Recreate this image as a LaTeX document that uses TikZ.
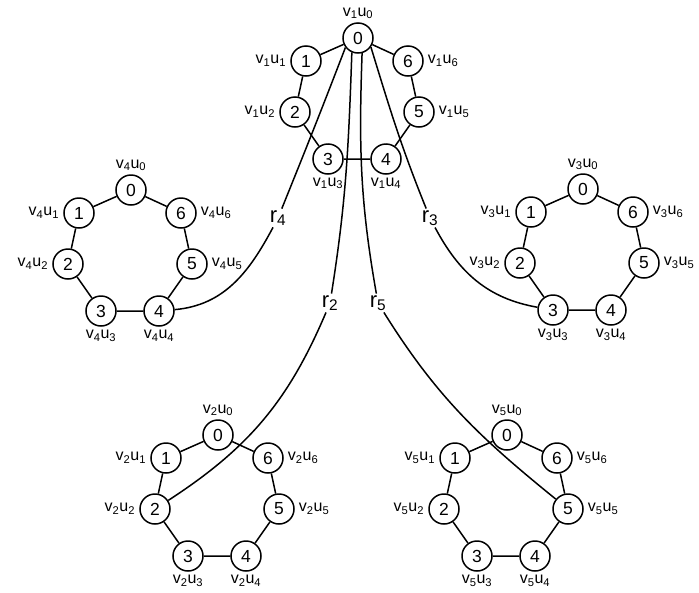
\documentclass[tikz,border=0pt]{standalone}
\usepackage{fontspec}
\setmainfont{Liberation Sans}
\tikzset{
  vtx/.style={circle, draw, line width=1.5pt, minimum size=30pt, inner sep=0pt, font=\fontsize{17.5}{17.5}\selectfont},
  lbl/.style={inner sep=0pt, font=\fontsize{16}{16}\selectfont},
  rlbl/.style={inner sep=1.5pt, font=\fontsize{22}{22}\selectfont},
  edge/.style={line width=1.5pt},
}
\newcommand\mkcycle[3]{%
  \foreach \k/\dx/\dy in {0/0/0, 1/-52/23, 2/-63/74, 3/-30/121, 4/28/121, 5/61/74, 6/50/23}{
    \node[vtx] (c#1n\k) at (#2+\dx, -#3-\dy) {\k};
  }
  \foreach \k/\na/\la/\sx/\sy in {0/north/south/0/3, 1/west/east/-4/0, 2/west/east/-4/0, 3/south/north/0/-3, 4/south/north/0/-3, 5/east/west/4/0, 6/east/west/4/0}{
    \node[lbl, anchor=\la] (c#1l\k) at ([xshift=\sx pt, yshift=\sy pt]c#1n\k.\na) {v\textsubscript{#1}u\textsubscript{\k}};
  }
  \draw[edge] (c#1n0) -- (c#1n1) -- (c#1n2) -- (c#1n3) -- (c#1n4) -- (c#1n5) -- (c#1n6) -- (c#1n0);
}
\begin{document}
\begin{tikzpicture}[x=1pt,y=1pt]
\useasboundingbox (0,0) rectangle (699,-592);
\mkcycle{1}{358}{38}
\mkcycle{4}{131}{190}
\mkcycle{3}{583}{189}
\mkcycle{2}{218}{435}
\mkcycle{5}{507}{435}
\node[rlbl] (r4) at (278,-218) {r\textsubscript{4}};
\node[rlbl] (r3) at (430,-218) {r\textsubscript{3}};
\node[rlbl] (r2) at (330,-303) {r\textsubscript{2}};
\node[rlbl] (r5) at (378,-303) {r\textsubscript{5}};
\draw[edge] (c1n0.-143) to[out=-111,in=68] (r4);
\draw[edge] (r4) to[out=-118,in=5] (c4n4);
\draw[edge] (c1n0.-35) to[out=-73,in=112] (r3);
\draw[edge] (r3) to[out=-62,in=170] (c3n3);
\draw[edge] (c1n0.-113) to[out=-92,in=81] (r2);
\draw[edge] (r2) to[out=-113,in=33] (c2n2);
\draw[edge] (c1n0.-75) to[out=-92,in=100] (r5);
\draw[edge] (r5) to[out=-58,in=141] (c5n5);
\end{tikzpicture}
\end{document}
